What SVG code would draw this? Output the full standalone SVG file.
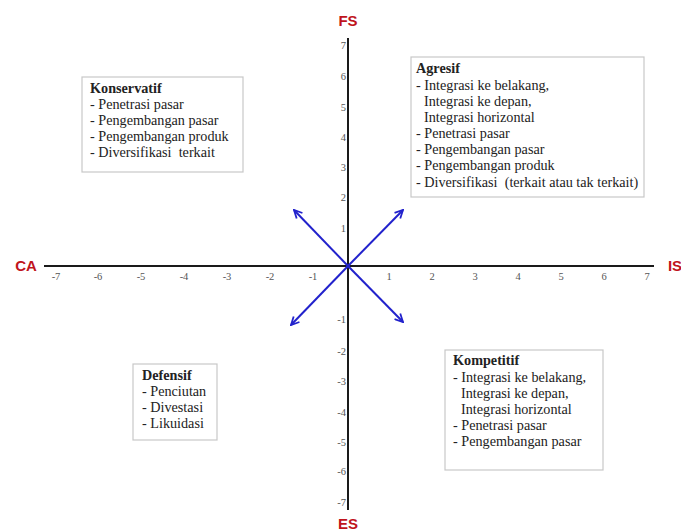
<svg xmlns="http://www.w3.org/2000/svg" width="681" height="532" viewBox="0 0 681 532">
<style>
.ax{stroke:#1a1a1a;stroke-width:2;fill:none}
.arr{stroke:#2222cc;stroke-width:2;fill:none;marker-end:url(#ah)}
.lbl{font-family:"Liberation Sans",Arial,sans-serif;font-weight:bold;font-size:15px;fill:#c0141c}
.tk{font-family:"Liberation Serif","Times New Roman",serif;font-size:10.5px;fill:#555}
.box{fill:#fff;stroke:#c8c8c8;stroke-width:1.2}
.t{font-family:"Liberation Serif","Times New Roman",serif;font-size:14.2px;fill:#222;white-space:pre}
.h{font-weight:bold}
</style>
<defs>
<marker id="ah" viewBox="0 0 10 10" refX="9" refY="5" markerWidth="10" markerHeight="10" orient="auto" markerUnits="userSpaceOnUse">
<path d="M1,1 L9,5 L1,9" fill="none" stroke="#2222cc" stroke-width="1.8"/>
</marker>
</defs>
<rect width="681" height="532" fill="#fff"/>
<g id="axes">
<line class="ax" x1="44" y1="266" x2="654" y2="266"/>
<line class="ax" x1="348" y1="38" x2="348" y2="510"/>
</g>
<g id="axis-labels">
<text class="lbl" x="348" y="26" text-anchor="middle">FS</text>
<text class="lbl" x="348" y="529" text-anchor="middle">ES</text>
<text class="lbl" x="26" y="271" text-anchor="middle">CA</text>
<text class="lbl" x="675" y="271" text-anchor="middle">IS</text>
</g>
<g id="ticks-x" class="tk" text-anchor="middle">
<text x="56" y="280">-7</text>
<text x="98" y="280">-6</text>
<text x="141" y="280">-5</text>
<text x="184" y="280">-4</text>
<text x="227" y="280">-3</text>
<text x="270" y="280">-2</text>
<text x="313" y="280">-1</text>
<text x="389" y="280">1</text>
<text x="432" y="280">2</text>
<text x="475" y="280">3</text>
<text x="518" y="280">4</text>
<text x="561" y="280">5</text>
<text x="604" y="280">6</text>
<text x="647" y="280">7</text>
</g>
<g id="ticks-y" class="tk" text-anchor="end">
<text x="346" y="49">7</text>
<text x="346" y="80">6</text>
<text x="346" y="111">5</text>
<text x="346" y="141">4</text>
<text x="346" y="171">3</text>
<text x="346" y="201">2</text>
<text x="346" y="232">1</text>
<text x="346" y="323">-1</text>
<text x="346" y="355">-2</text>
<text x="346" y="385">-3</text>
<text x="346" y="416">-4</text>
<text x="346" y="446">-5</text>
<text x="346" y="475">-6</text>
<text x="346" y="506">-7</text>
</g>
<g id="connectors">
<line class="arr" x1="348" y1="266" x2="294" y2="210"/>
<line class="arr" x1="348" y1="266" x2="403" y2="210"/>
<line class="arr" x1="348" y1="266" x2="291" y2="325"/>
<line class="arr" x1="348" y1="266" x2="403" y2="322"/>
</g>
<g id="konservatif">
<rect class="box" x="82" y="77" width="161" height="95"/>
<text class="t h" x="90" y="93">Konservatif</text>
<text class="t" x="90" y="109">- Penetrasi pasar</text>
<text class="t" x="90" y="125">- Pengembangan pasar</text>
<text class="t" x="90" y="141">- Pengembangan produk</text>
<text class="t" x="90" y="157">- Diversifikasi  terkait</text>
</g>
<g id="agresif">
<rect class="box" x="411" y="57" width="233" height="140"/>
<text class="t h" x="416" y="73">Agresif</text>
<text class="t" x="416" y="90">- Integrasi ke belakang,</text>
<text class="t" x="424" y="106">Integrasi ke depan,</text>
<text class="t" x="424" y="122">Integrasi horizontal</text>
<text class="t" x="416" y="138">- Penetrasi pasar</text>
<text class="t" x="416" y="154">- Pengembangan pasar</text>
<text class="t" x="416" y="170">- Pengembangan produk</text>
<text class="t" x="416" y="187">- Diversifikasi  (terkait atau tak terkait)</text>
</g>
<g id="defensif">
<rect class="box" x="133" y="364" width="84" height="76"/>
<text class="t h" x="142" y="380">Defensif</text>
<text class="t" x="142" y="396">- Penciutan</text>
<text class="t" x="142" y="412">- Divestasi</text>
<text class="t" x="142" y="428">- Likuidasi</text>
</g>
<g id="kompetitif">
<rect class="box" x="445" y="350" width="158" height="120"/>
<text class="t h" x="453" y="365">Kompetitif</text>
<text class="t" x="453" y="382">- Integrasi ke belakang,</text>
<text class="t" x="461" y="398">Integrasi ke depan,</text>
<text class="t" x="461" y="414">Integrasi horizontal</text>
<text class="t" x="453" y="430">- Penetrasi pasar</text>
<text class="t" x="453" y="446">- Pengembangan pasar</text>
</g>
</svg>
